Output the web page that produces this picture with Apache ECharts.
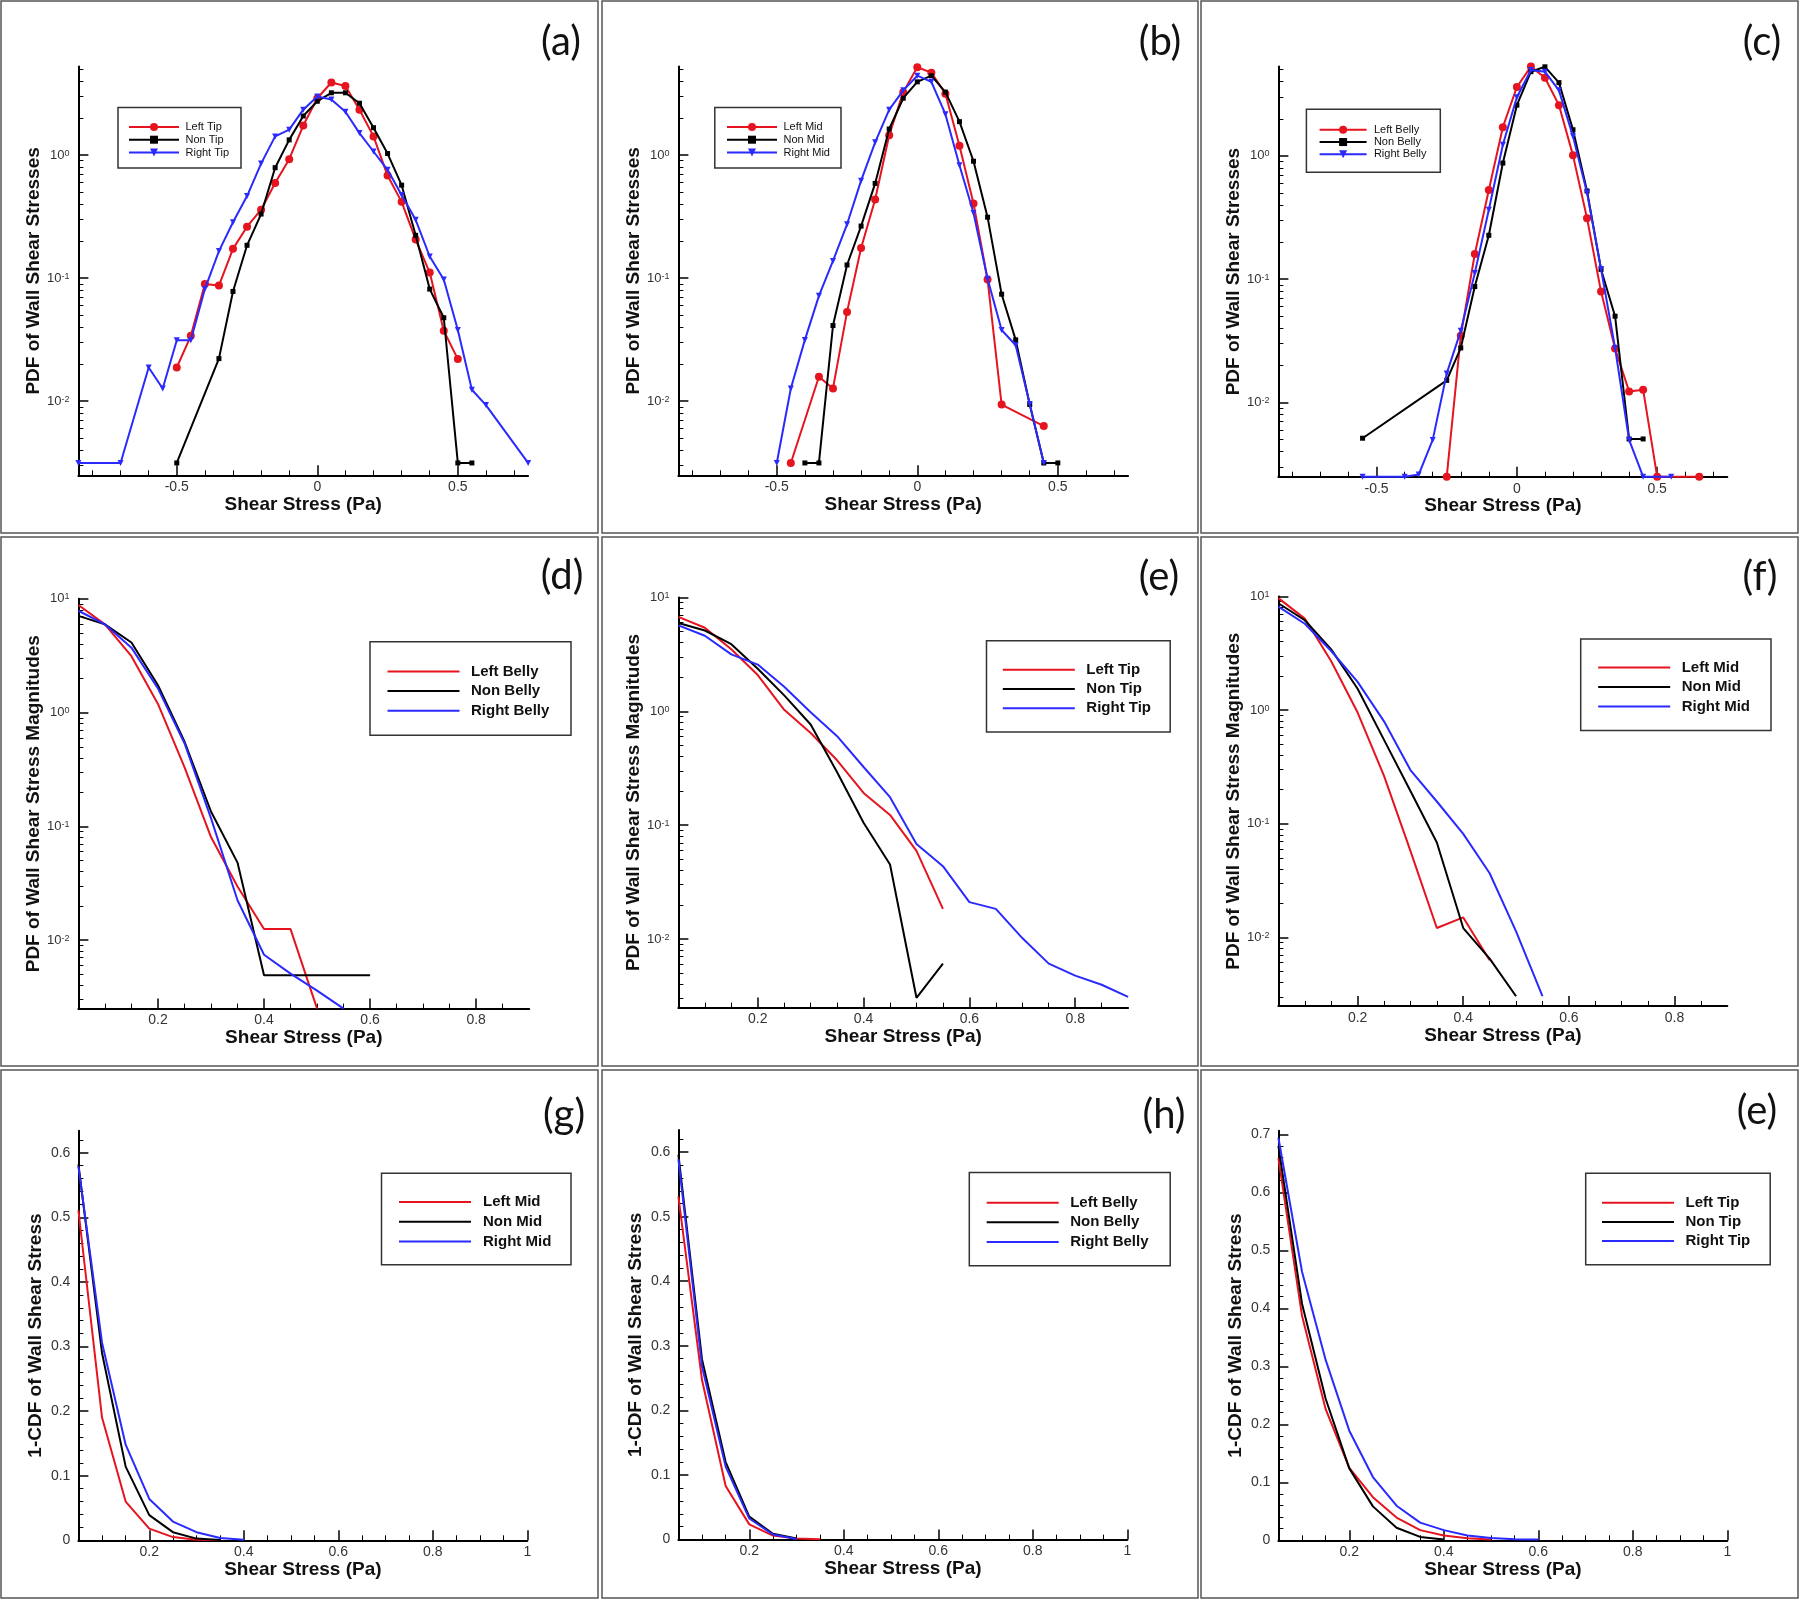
<!DOCTYPE html>
<html>
<head>
<meta charset="utf-8">
<script src="https://cdn.jsdelivr.net/npm/echarts@6/dist/echarts.min.js"></script>
<style>html,body{margin:0;padding:0;background:#fff}#c{width:1800px;height:1600px}</style>
</head>
<body>
<div id="c"></div>
<script>
// ---------------- DATA ----------------
// (a) PDF of wall shear stress, Tip
const aRedX   = [-0.5,-0.45,-0.4,-0.35,-0.3,-0.25,-0.2,-0.15,-0.1,-0.05,0,0.05,0.1,0.15,0.2,0.25,0.3,0.35,0.4,0.45,0.5];
const aRedY   = [0.0188,0.034,0.0897,0.087,0.173,0.262,0.36,0.593,0.926,1.74,2.9,3.89,3.65,2.34,1.42,0.682,0.417,0.206,0.111,0.0374,0.022];
const aBlackX = [-0.5,-0.35,-0.3,-0.25,-0.2,-0.15,-0.1,-0.05,0,0.05,0.1,0.15,0.2,0.25,0.3,0.35,0.4,0.45,0.5,0.55];
const aBlackY = [0.00315,0.0222,0.078,0.185,0.332,0.79,1.33,2.08,2.74,3.21,3.21,2.64,1.67,1.03,0.57,0.223,0.0815,0.0477,0.00315,0.00315];
const aBlueX  = [-0.85,-0.7,-0.6,-0.55,-0.5,-0.45,-0.4,-0.35,-0.3,-0.25,-0.2,-0.15,-0.1,-0.05,0,0.05,0.1,0.15,0.2,0.25,0.3,0.35,0.4,0.45,0.5,0.55,0.6,0.75];
const aBlueY  = [0.00315,0.00315,0.0188,0.0127,0.0313,0.0313,0.0815,0.166,0.285,0.465,0.853,1.42,1.61,2.34,2.99,2.83,2.25,1.51,1.07,0.76,0.474,0.298,0.15,0.0975,0.0379,0.0124,0.0093,0.00315];
// (b) Mid
const bRedX   = [-0.45,-0.35,-0.3,-0.25,-0.2,-0.15,-0.1,-0.05,0,0.05,0.1,0.15,0.2,0.25,0.3,0.45];
const bRedY   = [0.00315,0.0158,0.0127,0.0532,0.176,0.436,1.45,3.25,5.18,4.68,3.15,1.19,0.404,0.0975,0.0094,0.00628];
const bBlackX = [-0.4,-0.35,-0.3,-0.25,-0.2,-0.15,-0.1,-0.05,0,0.05,0.1,0.15,0.2,0.25,0.3,0.35,0.4,0.45,0.5];
const bBlackY = [0.00315,0.00315,0.0412,0.128,0.265,0.589,1.63,2.9,3.94,4.42,3.25,1.87,0.892,0.313,0.0741,0.0315,0.0094,0.00315,0.00315];
const bBlueX  = [-0.5,-0.45,-0.4,-0.35,-0.3,-0.25,-0.2,-0.15,-0.1,-0.05,0,0.05,0.1,0.15,0.2,0.25,0.3,0.35,0.4,0.45];
const bBlueY  = [0.00315,0.0127,0.0315,0.0718,0.138,0.274,0.62,1.27,2.34,3.36,4.42,3.94,2.15,0.826,0.338,0.0987,0.0379,0.0285,0.0095,0.00315];
// (c) Belly
const cRedX   = [-0.25,-0.2,-0.15,-0.1,-0.05,0,0.05,0.1,0.15,0.2,0.25,0.3,0.35,0.4,0.45,0.5,0.65];
const cRedY   = [0.0025,0.0347,0.16,0.529,1.71,3.62,5.3,4.3,2.58,1.01,0.312,0.0793,0.0274,0.0123,0.0127,0.0025,0.0025];
const cBlackX = [-0.55,-0.25,-0.2,-0.15,-0.1,-0.05,0,0.05,0.1,0.15,0.2,0.25,0.3,0.35,0.4,0.45];
const cBlackY = [0.00513,0.0151,0.0277,0.0871,0.227,0.875,2.58,4.82,5.28,3.93,1.63,0.519,0.12,0.0501,0.00506,0.00506];
const cBlueX  = [-0.55,-0.4,-0.35,-0.3,-0.25,-0.2,-0.15,-0.1,-0.05,0,0.05,0.1,0.15,0.2,0.25,0.3,0.35,0.4,0.45,0.55];
const cBlueY  = [0.0025,0.0025,0.0026,0.00497,0.0172,0.0381,0.112,0.366,1.23,2.99,4.98,4.82,3.4,1.44,0.503,0.121,0.0277,0.00497,0.0025,0.0025];

// (d)-(f) PDF of wall shear stress magnitudes
const magX   = [0.05,0.1,0.15,0.2,0.25,0.3,0.35,0.4,0.45,0.5,0.55,0.6,0.65,0.7,0.75,0.8,0.85,0.9];
const dRed   = [8.83,5.96,3.13,1.19,0.332,0.0805,0.0296,0.0125,0.0125,0.0025];
const dBlack = [7.08,5.96,4.13,1.74,0.557,0.135,0.048,0.00491,0.00491,0.00491,0.00491,0.00491];
const dBlue  = [7.85,5.96,3.72,1.63,0.538,0.118,0.0224,0.00743,0.00508,0.0036,0.0025];
const eRed   = [6.74,5.41,3.5,2.08,1.03,0.644,0.371,0.192,0.123,0.0594,0.0184];
const eBlack = [5.96,5.12,3.88,2.36,1.38,0.766,0.291,0.105,0.0451,0.00305,0.00608];
const eBlue  = [5.68,4.61,3.16,2.57,1.64,0.98,0.604,0.324,0.176,0.0682,0.0436,0.0211,0.0184,0.0102,0.00608,0.00477,0.00397,0.00311];
const fRed   = [9.66,6.38,2.69,0.951,0.264,0.0577,0.0121,0.015,0.00629];
const fBlack = [8.71,6.17,3.42,1.54,0.547,0.194,0.0685,0.0121,0.00652,0.00304];
const fBlue  = [8.13,5.75,3.31,1.77,0.796,0.297,0.157,0.0815,0.0367,0.0113,0.00304];

// (g)-(i) 1-CDF of wall shear stress
const cdfX   = [0.05,0.1,0.15,0.2,0.25,0.3,0.35,0.4,0.45,0.5,0.55,0.6];
const gRed   = [0.511,0.19,0.06,0.018,0.005,0.001,0.0003];
const gBlack = [0.582,0.29,0.114,0.039,0.0126,0.0026,0.0005];
const gBlue  = [0.579,0.306,0.148,0.064,0.029,0.0126,0.0037,0.001];
const hRed   = [0.531,0.247,0.083,0.0236,0.0063,0.0016,0.0005];
const hBlack = [0.596,0.279,0.12,0.0357,0.0089,0.0016];
const hBlue  = [0.589,0.268,0.113,0.0326,0.0079,0.001];
const iRed   = [0.659,0.387,0.226,0.125,0.0743,0.0392,0.0175,0.0082,0.0035,0.0012];
const iBlack = [0.68,0.408,0.244,0.124,0.0585,0.0216,0.0058,0.0012];
const iBlue  = [0.694,0.463,0.311,0.189,0.109,0.0596,0.0304,0.0175,0.0082,0.0041,0.0018,0.0012];

// names and tick labels
const tipNames   = ['Left Tip','Non Tip','Right Tip'];
const midNames   = ['Left Mid','Non Mid','Right Mid'];
const bellyNames = ['Left Belly','Non Belly','Right Belly'];
const pdfXTicks  = [-0.5, 0, 0.5];
const magXTicks  = [0.2, 0.4, 0.6, 0.8];
const cdfXTicks  = [0.2, 0.4, 0.6, 0.8, 1];
const logTicksA  = [0.01, 0.1, 1];
const logTicksD  = [0.01, 0.1, 1, 10];
const cdfYTicksG = [0, 0.1, 0.2, 0.3, 0.4, 0.5, 0.6];
const cdfYTicksI = [0, 0.1, 0.2, 0.3, 0.4, 0.5, 0.6, 0.7];
const logMinor = [];
[0.001, 0.01, 0.1, 1].forEach(d => { for (let k = 2; k <= 9; k++) logMinor.push(+(d * k).toPrecision(3)); });

// ---------------- STYLE / LAYOUT ----------------
const FONT = '"Liberation Sans", Arial, sans-serif';
const COLORS = ['#e6141e', '#000000', '#2a2aff'];
const MARKERS = [{symbol:'circle', size:8, rotate:0}, {symbol:'rect', size:5, rotate:0}, {symbol:'triangle', size:6, rotate:180}];
const pairs = (xs, ys) => ys.map((y, i) => [xs[i], y]);

const P = [
  {label:'(a)', lx:561, ly:42, grid:{left:78.4, top:66.5, width:449.7, height:408.8}, kind:'pdf',
   x:[-0.85,0.75,3,5,0.5,pdfXTicks], y:[0.0025,5.25], yName:'PDF of Wall Shear Stresses', names:tipNames,
   data:[pairs(aRedX,aRedY), pairs(aBlackX,aBlackY), pairs(aBlueX,aBlueY)],
   lg:{left:128, top:120.5, w:50, ih:10, lh:12.8, fs:11, bold:false, pad:1.5}, box:[118,107.5,123,60.5]},
  {label:'(b)', lx:1160, ly:42, grid:{left:678.4, top:66.5, width:449.7, height:408.8}, kind:'pdf',
   x:[-0.85,0.75,3,5,0.5,pdfXTicks], y:[0.0025,5.25], yName:'PDF of Wall Shear Stresses', names:midNames,
   data:[pairs(bRedX,bRedY), pairs(bBlackX,bBlackY), pairs(bBlueX,bBlueY)],
   lg:{left:726, top:120.5, w:50, ih:10, lh:12.8, fs:11, bold:false, pad:1.5}, box:[714.8,107.5,126.2,60.4]},
  {label:'(c)', lx:1762, ly:42, grid:{left:1278.4, top:66.5, width:448.9, height:410.2}, kind:'pdf',
   x:[-0.85,0.75,3,5,0.5,pdfXTicks], y:[0.0025,5.31], yName:'PDF of Wall Shear Stresses', names:bellyNames,
   data:[pairs(cRedX,cRedY), pairs(cBlackX,cBlackY), pairs(cBlueX,cBlueY)],
   lg:{left:1318.6, top:123.6, w:47, ih:10, lh:12.3, fs:11, bold:false, pad:2.3}, box:[1306.4,109.2,133.9,63.1]},
  {label:'(d)', lx:562, ly:576, grid:{left:78.4, top:598.8, width:450.8, height:409.8}, kind:'mag',
   x:[0.05,0.9,4,4,0.2,magXTicks], y:[0.0025,10], yName:'PDF of Wall Shear Stress Magnitudes', names:bellyNames,
   data:[pairs(magX,dRed), pairs(magX,dBlack), pairs(magX,dBlue)],
   lg:{left:386.5, top:661.7, w:72, ih:14, lh:19.6, fs:15, bold:true, pad:6.5}, box:[370,641.8,201,93.5]},
  {label:'(e)', lx:1159, ly:577, grid:{left:678.4, top:597.4, width:449.7, height:410.2}, kind:'mag',
   x:[0.05,0.9,4,4,0.2,magXTicks], y:[0.0025,10], yName:'PDF of Wall Shear Stress Magnitudes', names:tipNames,
   data:[pairs(magX,eRed), pairs(magX,eBlack), pairs(magX,eBlue)],
   lg:{left:1001.8, top:660.2, w:72, ih:14, lh:19.2, fs:15, bold:true, pad:6.5}, box:[986.5,640.8,183.7,91.1]},
  {label:'(f)', lx:1760, ly:577, grid:{left:1278.4, top:596.4, width:448.9, height:409.5}, kind:'mag',
   x:[0.05,0.9,4,4,0.2,magXTicks], y:[0.0025,10], yName:'PDF of Wall Shear Stress Magnitudes', names:midNames,
   data:[pairs(magX,fRed), pairs(magX,fBlack), pairs(magX,fBlue)],
   lg:{left:1597.2, top:657.6, w:72, ih:14, lh:19.6, fs:15, bold:true, pad:6.5}, box:[1580.7,639,190.3,91.5]},
  {label:'(g)', lx:564, ly:1115, grid:{left:78.4, top:1130.8, width:448.9, height:409.5}, kind:'cdf',
   x:[0.05,1,5,4,0.2,cdfXTicks], y:[0,0.634,6,cdfYTicksG], yName:'1-CDF of Wall Shear Stress', names:midNames,
   data:[pairs(cdfX,gRed), pairs(cdfX,gBlack), pairs(cdfX,gBlue)],
   lg:{left:398, top:1192, w:72, ih:14, lh:19.8, fs:15, bold:true, pad:7}, box:[381.5,1173.2,189.5,91.6]},
  {label:'(h)', lx:1164, ly:1115, grid:{left:678.4, top:1130.1, width:448.9, height:409.5}, kind:'cdf',
   x:[0.05,1,5,4,0.2,cdfXTicks], y:[0,0.634,6,cdfYTicksG], yName:'1-CDF of Wall Shear Stress', names:bellyNames,
   data:[pairs(cdfX,hRed), pairs(cdfX,hBlack), pairs(cdfX,hBlue)],
   lg:{left:985.7, top:1192.9, w:72, ih:14, lh:19.6, fs:15, bold:true, pad:6.5}, box:[969.3,1172.5,200.9,93.3]},
  {label:'(e)', lx:1757, ly:1111, grid:{left:1278.4, top:1130.8, width:448.9, height:409.5}, kind:'cdf',
   x:[0.05,1,5,4,0.2,cdfXTicks], y:[0,0.706,7,cdfYTicksI], yName:'1-CDF of Wall Shear Stress', names:tipNames,
   data:[pairs(cdfX,iRed), pairs(cdfX,iBlack), pairs(cdfX,iBlue)],
   lg:{left:1601, top:1193.1, w:72, ih:14, lh:19.2, fs:15, bold:true, pad:6.5}, box:[1585.7,1173.2,184.5,91.6]}
];

const stepFmt = step => v => { const k = v / step; return Math.abs(k - Math.round(k)) < 1e-6 ? String(+v.toFixed(3)) : ''; };
const logFmt = v => { const e = Math.log10(v); const r = Math.round(e); return Math.abs(e - r) < 1e-6 ? '10{s|' + r + '}' : ''; };
const lineAx = {onZero:false, lineStyle:{color:'#000', width:2}};
const nameStyle = {fontSize:19, fontWeight:'bold', color:'#111', fontFamily:FONT};

const grids = [], xAxes = [], yAxes = [], series = [], legends = [], graphics = [];
const minorAxes = [];

P.forEach((p, i) => {
  grids.push(Object.assign({containLabel:false}, p.grid));
  xAxes.push({
    type:'value', gridIndex:i, min:p.x[0], max:p.x[1], splitNumber:p.x[2],
    axisLine:lineAx,
    axisTick:{inside:true, length:10, lineStyle:{color:'#000', width:1.5}, customValues:p.x[5]},
    minorTick:{show:true, splitNumber:p.x[3], length:5, lineStyle:{color:'#000', width:1}},
    splitLine:{show:false}, minorSplitLine:{show:false},
    axisLabel:{formatter:stepFmt(p.x[4]), fontSize:14, color:'#333', margin:5, fontFamily:FONT},
    name:'Shear Stress (Pa)', nameLocation:'middle', nameGap:17, nameTextStyle:nameStyle
  });
  if (p.kind === 'cdf') {
    yAxes.push({
      type:'value', gridIndex:i, min:p.y[0], max:p.y[1], splitNumber:p.y[2],
      axisLine:lineAx,
      axisTick:{inside:true, length:10, lineStyle:{color:'#000', width:1.5}, customValues:p.y[3]},
      minorTick:{show:true, splitNumber:5, length:5, lineStyle:{color:'#000', width:1}},
      splitLine:{show:false}, minorSplitLine:{show:false},
      axisLabel:{formatter:stepFmt(0.1), fontSize:14, color:'#333', margin:8, fontFamily:FONT},
      name:p.yName, nameLocation:'middle', nameGap:33, nameTextStyle:nameStyle
    });
  } else {
    yAxes.push({
      type:'log', logBase:10, gridIndex:i, min:p.y[0], max:p.y[1],
      axisLine:lineAx,
      axisTick:{inside:true, length:10, lineStyle:{color:'#000', width:1.5}, customValues:(p.kind === 'pdf' ? logTicksA : logTicksD)},
      minorTick:{show:false}, splitLine:{show:false},
      axisLabel:{formatter:logFmt, fontSize:13, color:'#333', margin:9, fontFamily:FONT,
        rich:{s:{fontSize:9, lineHeight:9, verticalAlign:'top', color:'#333', fontFamily:FONT}}},
      name:p.yName, nameLocation:'middle', nameGap:34, nameTextStyle:nameStyle
    });
    minorAxes.push({
      type:'log', logBase:10, gridIndex:i, min:p.y[0], max:p.y[1], position:'left', offset:0,
      axisLine:{show:false, onZero:false}, axisLabel:{show:false}, splitLine:{show:false},
      axisTick:{inside:true, length:5, lineStyle:{color:'#000', width:1},
        customValues:logMinor.filter(v => v > p.y[0] && v < p.y[1])}
    });
  }
  p.data.forEach((d, k) => {
    const s = {
      type:'line', name:p.names[k], xAxisIndex:i, yAxisIndex:i, data:d, clip:false,
      lineStyle:{color:COLORS[k], width:2}, itemStyle:{color:COLORS[k]},
      emphasis:{disabled:true}, z:2 + k
    };
    if (p.kind === 'pdf') {
      s.symbol = MARKERS[k].symbol; s.symbolSize = MARKERS[k].size; s.symbolRotate = MARKERS[k].rotate; s.showSymbol = true;
    } else {
      s.symbol = 'none'; s.showSymbol = false;
    }
    series.push(s);
  });
  const lg = p.lg;
  const legend = {
    orient:'vertical', left:lg.left, top:lg.top, padding:0, itemGap:0,
    itemWidth:lg.w, itemHeight:lg.ih, selectedMode:false, data:p.names,
    textStyle:{fontSize:lg.fs, fontWeight:lg.bold ? 'bold' : 'normal', color:'#111', fontFamily:FONT,
      lineHeight:lg.lh, padding:[0,0,0,lg.pad]}
  };
  if (p.kind !== 'pdf') legend.itemStyle = {opacity:0};
  legends.push(legend);
  graphics.push({type:'rect', silent:true, z:1, shape:{x:p.box[0], y:p.box[1], width:p.box[2], height:p.box[3]},
    style:{fill:'none', stroke:'#333', lineWidth:1.5}});
  graphics.push({type:'text', silent:true, z:1, x:p.lx, y:p.ly,
    style:{text:p.label, fontSize:40, fontFamily:'Lato, "Open Sans", sans-serif', fill:'#111',
      align:'center', verticalAlign:'middle', textAlign:'center', textVerticalAlign:'middle'}});
});

// panel frames
const colX = [1, 602, 1201], colW = [597, 596, 597];
const rowY = [1, 537, 1070], rowH = [532, 529, 528];
rowY.forEach((ry, r) => colX.forEach((cx, c) => {
  graphics.push({type:'rect', silent:true, z:0, shape:{x:cx, y:ry, width:colW[c], height:rowH[r]},
    style:{fill:'none', stroke:'#555', lineWidth:1.5}});
}));

const chart = echarts.init(document.getElementById('c'), null, {renderer:'canvas', width:1800, height:1600});
chart.setOption({
  backgroundColor:'#fff',
  animation:false,
  grid:grids,
  xAxis:xAxes,
  yAxis:yAxes.concat(minorAxes),
  legend:legends,
  series:series,
  graphic:{elements:graphics}
});
</script>
</body>
</html>
